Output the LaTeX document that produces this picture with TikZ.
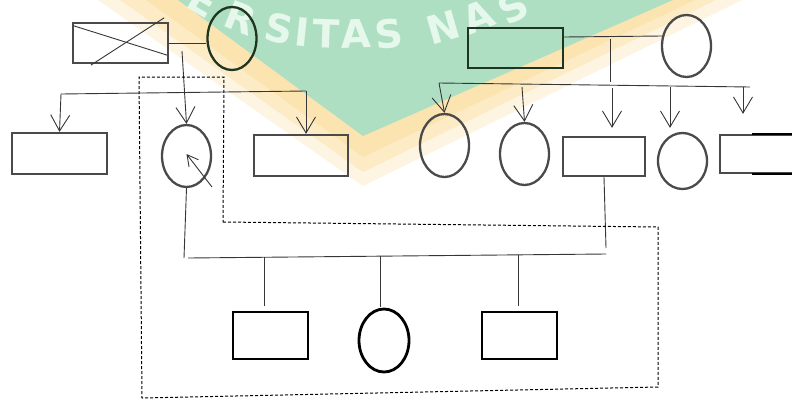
\documentclass[tikz,border=0pt]{standalone}
\usepackage{fontspec}
\newfontfamily\wmfont{DejaVu Sans}
\usetikzlibrary{arrows.meta,shapes.geometric,calc}

\definecolor{wmgreen}{HTML}{AEDFC3}
\definecolor{wmyellow}{HTML}{FBE0A0}
\definecolor{wmtext}{HTML}{E6F7EC}
\definecolor{shapegray}{HTML}{4A4A4A}
\definecolor{linegray}{HTML}{363636}
\definecolor{darkgreen}{HTML}{1E3522}

\tikzset{
  box/.style={rectangle, draw=shapegray, line width=2.3pt, inner sep=0pt},
  oval/.style={ellipse, draw=shapegray, line width=2.3pt, inner sep=0pt},
  gen3/.style={draw=black, line width=2.8pt},
  link/.style={draw=linegray, line width=0.9pt},
  arr/.style={link, -{Straight Barb[length=16pt,width=19pt]}},
  hh/.style={draw=black, line width=1pt, dash pattern=on 3pt off 2pt},
  wmletter/.style={text=wmtext, inner sep=0pt,
    font=\wmfont\bfseries\fontsize{39pt}{39pt}\selectfont},
}

\begin{document}
\begin{tikzpicture}[x=1pt,y=-1pt]
\useasboundingbox (0,0) rectangle (792,399);
\clip (0,0) rectangle (792,399);
\fill[white] (0,0) rectangle (792,399);

% background emblem
\fill[wmyellow, opacity=0.3] (98,0) -- (363,186) -- (742,0) -- cycle;
\fill[wmyellow, opacity=0.45] (120,0) -- (363,172) -- (716,0) -- cycle;
\fill[wmyellow, opacity=0.55] (146,0) -- (363,157) -- (695,0) -- cycle;
\fill[wmgreen] (178,0) -- (363,136) -- (673,0) -- cycle;
\node[wmletter, rotate=-30] at (203,1)  {E};
\node[wmletter, rotate=-22] at (241,18) {R};
\node[wmletter, rotate=-12] at (279,29) {S};
\node[wmletter, rotate=-6]  at (302,32) {I};
\node[wmletter, rotate=-2]  at (326,34) {T};
\node[wmletter, rotate=2]   at (356,34) {A};
\node[wmletter, rotate=6]   at (389,34) {S};
\node[wmletter, rotate=16]  at (443,27) {N};
\node[wmletter, rotate=22]  at (478,17) {A};
\node[wmletter, rotate=28]  at (513,7)  {S};

% first generation
\node[box, minimum width=95pt, minimum height=40pt] (gf) at (120.5,43) {};
\node[oval, draw=darkgreen, minimum width=49pt, minimum height=63pt] (gm) at (232,38.5) {};
\node[box, draw=darkgreen, minimum width=95pt, minimum height=40pt] (rf) at (515.5,48) {};
\node[oval, minimum width=49pt, minimum height=62pt] (rm) at (686.5,46) {};

% deceased mark
\draw[link] ([shift={(2,4)}]gf.north west) -- ([shift={(-2,-9)}]gf.south east);
\draw[link] ([shift={(19,1)}]gf.south west) -- ([shift={(-5,-4)}]gf.north east);

% second generation
\node[box, minimum width=95pt, minimum height=41pt] (lc1) at (59.5,153.5) {};
\node[oval, minimum width=49pt, minimum height=62pt] (mo) at (186.5,156) {};
\node[box, minimum width=94pt, minimum height=41pt] (lc3) at (301,155.5) {};
\node[oval, minimum width=49pt, minimum height=63pt] (rc1) at (444.5,145.5) {};
\node[oval, minimum width=49pt, minimum height=62pt] (rc2) at (524.5,154) {};
\node[box, minimum width=82pt, minimum height=39pt] (fa) at (604,156.5) {};
\node[oval, minimum width=49pt, minimum height=56pt] (rc4) at (682.5,161) {};
\node[box, minimum width=95pt, minimum height=38pt] (rc5) at (767.5,154) {};
\draw[black, line width=2.5pt] ([xshift=33pt]rc5.north west) -- (rc5.north east);
\draw[black, line width=2.5pt] ([xshift=33pt]rc5.south west) -- (rc5.south east);

% third generation
\node[box, gen3, minimum width=75pt, minimum height=47pt] (g1) at (270.5,335.5) {};
\node[oval, gen3, minimum width=50pt, minimum height=63pt] (g2) at (384,340.5) {};
\node[box, gen3, minimum width=75pt, minimum height=47pt] (g3) at (519.5,335.5) {};

% left family connectors
\draw[link] (gf.east) -- (gf.east -| gm.west);
\coordinate (dl1) at (182,51);
\coordinate (sl1) at (61,94);
\coordinate (sl2) at (306,91);
\draw[link] (sl1) -- (sl2);
\draw[arr] (dl1) -- (mo.north);
\draw[arr] (sl1) -- (lc1.north);
\draw[arr] (sl2) -- (sl2 |- lc3.north);
\coordinate (ma) at (212,187);
\draw[link, -{Straight Barb[length=11pt,width=12pt]}] (ma) -- ([yshift=2pt]mo.center);

% right family connectors
\draw[link] ([yshift=11pt]rf.east) -- ([xshift=1.5pt,yshift=10pt]rm.west);
\coordinate (rd1) at (610,39);
\coordinate (rd2) at (610,82);
\draw[link] (rd1) -- (rd2);
\coordinate (rs1) at (439,83);
\coordinate (rs2) at (750,87);
\draw[link] (rs1) -- (rs2);
\coordinate (rsb) at (522,87);
\coordinate (rsc) at (612,88);
\coordinate (rsd) at (670,87);
\coordinate (rse) at (743,87);
\draw[arr] (rs1) -- (rc1.north);
\draw[arr] (rsb) -- (rc2.north);
\draw[arr] (rsc) -- ([xshift=8pt,yshift=8pt]fa.north);
\draw[arr] (rsd) -- ([xshift=-12.5pt,yshift=4pt]rc4.north);
\draw[arr] (rse) -- ([xshift=-24.5pt,yshift=20pt]rc5.north);

% household connectors
\coordinate (cm) at (184,258);
\coordinate (ch1) at (188,258);
\coordinate (ch2) at (606,254);
\coordinate (fb) at (606,248);
\draw[link] (mo.south) -- (cm);
\draw[link] (fa.south) -- (fb);
\draw[link] (ch1) -- (ch2);
\coordinate (t1a) at (264,257); \coordinate (t1b) at (264,306);
\coordinate (t2a) at (380,256); \coordinate (t2b) at (380,307);
\coordinate (t3a) at (518,255); \coordinate (t3b) at (518,306);
\draw[link] (t1a) -- (t1b);
\draw[link] (t2a) -- (t2b);
\draw[link] (t3a) -- (t3b);

% household boundary
\draw[hh] (223,222) -- (658,227) -- (658,387) -- (142,398) -- (139,77) -- (224,77) -- cycle;
\end{tikzpicture}
\end{document}
